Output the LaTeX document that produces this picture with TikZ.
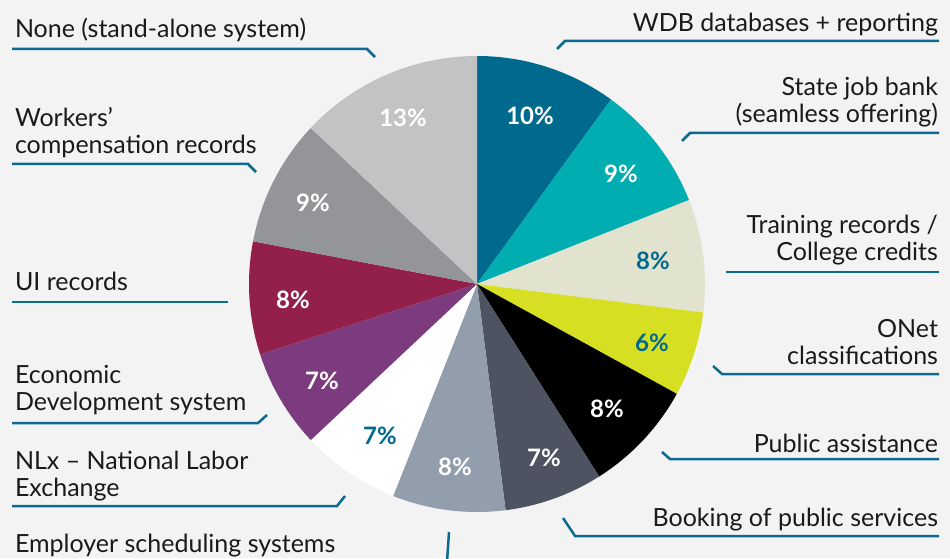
\documentclass[tikz,border=0pt]{standalone}
\usepackage{fontspec}
\setmainfont{Lato}
\usetikzlibrary{calc}
\definecolor{bg}{HTML}{F3F3F3}
\definecolor{lineblue}{HTML}{0B6B8E}
\definecolor{txt}{HTML}{1A1A1A}
\definecolor{cA}{HTML}{006A8E}
\definecolor{cB}{HTML}{00ADB0}
\definecolor{cC}{HTML}{E1E3CF}
\definecolor{cD}{HTML}{D7DF23}
\definecolor{cE}{HTML}{000000}
\definecolor{cF}{HTML}{4D5360}
\definecolor{cG}{HTML}{939EAD}
\definecolor{cH}{HTML}{FFFFFF}
\definecolor{cI}{HTML}{7B3B7E}
\definecolor{cJ}{HTML}{93204B}
\definecolor{cK}{HTML}{949598}
\definecolor{cL}{HTML}{C2C3C5}
\tikzset{
  lbl/.style={font=\fontsize{25}{27}\selectfont, text=txt, inner sep=0pt, outer sep=0pt},
  rlbl/.style={lbl, align=right, anchor=base east},
  llbl/.style={lbl, align=left, anchor=base west},
  pct/.style={font=\bfseries\fontsize{24}{24}\selectfont, text=white, inner sep=0pt},
  pctb/.style={pct, text=cA},
  lead/.style={draw=lineblue, line width=2.5pt, line join=miter},
}
\begin{document}
\begin{tikzpicture}[x=1pt,y=1pt]
\fill[bg] (0,0) rectangle (950,558);
\useasboundingbox (0,0) rectangle (950,558);
\clip (0,0) rectangle (950,558);
\coordinate (C) at (477,274);
\def\R{228}
% slices
\foreach \a/\b/\c in {90/54/cA, 54/21.6/cB, 21.6/-7.2/cC, -7.2/-28.8/cD, -28.8/-57.6/cE, -57.6/-82.8/cF, -82.8/-111.6/cG, -111.6/-136.8/cH, -136.8/-162/cI, -162/-190.8/cJ, -190.8/-223.2/cK, -223.2/-270/cL}
  \fill[\c] (C) -- ($(C)+(\a:\R)$) arc[start angle=\a, end angle=\b, radius=\R] -- cycle;
% percentages
\node[pct]  (p1)  at (530,442) {10\%};
\node[pct]  (p2)  at (621,384) {9\%};
\node[pctb] (p3)  at (653,297) {8\%};
\node[pctb] (p4)  at (652,215) {6\%};
\node[pct]  (p5)  at (607,149) {8\%};
\node[pct]  (p6)  at (544,100) {7\%};
\node[pct]  (p7)  at (455,91)  {8\%};
\node[pctb] (p8)  at (380,122) {7\%};
\node[pct]  (p9)  at (322,177) {7\%};
\node[pct]  (p10) at (293,258) {8\%};
\node[pct]  (p11) at (313,355) {9\%};
\node[pct]  (p12) at (403,440) {13\%};
% right labels (multi-line nodes are placed at their last baseline)
\node[rlbl] (l1) at (938,526) {WDB databases + reporting};
\node[rlbl] (l2) at (938,435) {State job bank\\(seamless offering)};
\node[rlbl] (l3) at (938,298) {Training records /\\College credits};
\node[rlbl] (l4) at (938,194) {ONet\\classifications};
\node[rlbl] (l5) at (938,106) {Public assistance};
\node[rlbl] (l6) at (938,32)  {Booking of public services};
% left labels
\node[llbl] (m1) at (15,520) {None (stand-alone system)};
\node[llbl] (m2) at (15,404) {Workers’\\compensation records};
\node[llbl] (m3) at (15,268) {UI records};
\node[llbl] (m4) at (15,148) {Economic\\Development system};
\node[llbl] (m5) at (15,62)  {NLx – National Labor\\Exchange};
\node[llbl] (m6) at (15,6)   {Employer scheduling systems};
% leader lines
\draw[lead] (557,509) -- (565,517) -- (939,517);
\draw[lead] (682,417) -- (690,425) -- (939,425);
\draw[lead] (726,286) -- (939,286);
\draw[lead] (713,192) -- (722,184) -- (939,184);
\draw[lead] (662,106) -- (670,99) -- (939,99);
\draw[lead] (563,40) -- (575,22) -- (939,22);
\draw[lead] (12,509) -- (367,509) -- (375,501);
\draw[lead] (12,394) -- (248,394) -- (256,386);
\draw[lead] (12,256) -- (228,256);
\draw[lead] (12,135) -- (258,135) -- (267,143);
\draw[lead] (12,52) -- (337,52) -- (345,62);
\draw[lead] (449,26) -- (447,-4);
\end{tikzpicture}
\end{document}
